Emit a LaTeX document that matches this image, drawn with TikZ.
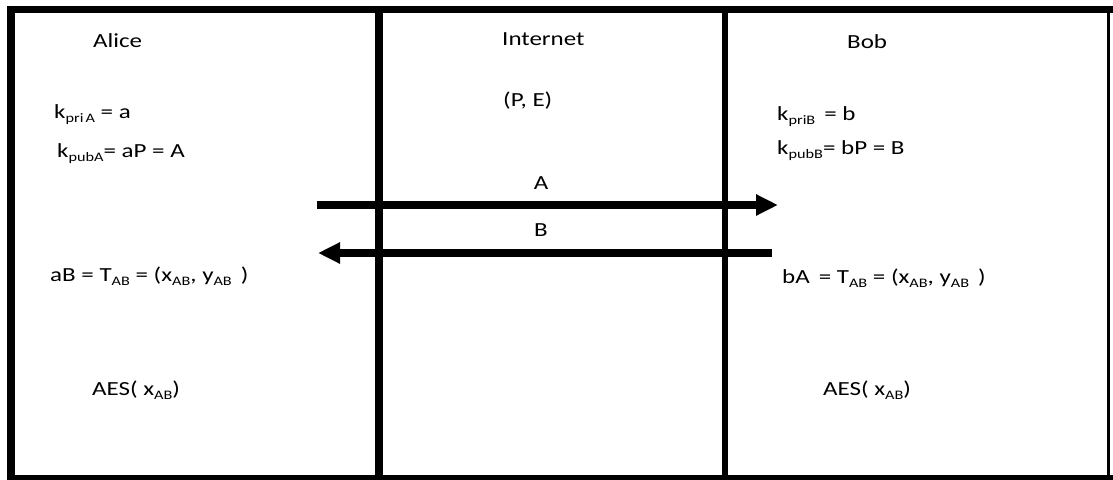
\documentclass[tikz,border=0pt]{standalone}
\usepackage{fontspec}
\setmainfont{Carlito}[FakeStretch=1.25]
\usetikzlibrary{arrows.meta}

% lowered, smaller text for key and point indices
\newcommand{\idx}[1]{\raisebox{-4.5pt}{\fontsize{13}{13}\selectfont #1}}

\tikzset{
  lbl/.style={anchor=base west, inner sep=0pt, font=\fontsize{20}{24}\selectfont},
  msg/.style={anchor=center, inner sep=0pt, font=\fontsize{20}{24}\selectfont},
  wire/.style={line width=8.5pt, -{Triangle[width=20pt,length=22pt]}},
}

\begin{document}
\begin{tikzpicture}[x=1pt,y=-1pt]
\useasboundingbox (0,0) rectangle (1113,479);

% outer frame
\draw[line width=7pt] (7,9.5) -- (1113,9.5);
\draw[line width=8pt] (11,6) -- (11,481);
\draw[line width=3pt] (1108,6) -- (1108,476);
\draw[line width=5pt] (7,477.5) -- (1113,477.5);

% panel dividers
\coordinate (d1top) at (379,6);
\coordinate (d1bot) at (379,481);
\coordinate (d2top) at (725,6);
\coordinate (d2bot) at (725,481);
\draw[line width=8pt] (d1top) -- (d1bot);
\draw[line width=6.5pt] (d2top) -- (d2bot);

% headings
\node[lbl] (alice) at (93,47) {Alice};
\node[lbl] (inet) at (502,45) {Internet};
\node[lbl] (bob) at (847,48) {Bob};

% Alice side
\node[lbl] (kpriA) at (54,118) {k\idx{pri\,A} = a};
\node[lbl] (kpubA) at (57,157) {k\idx{pubA}= aP = A};
\node[lbl] (tA) at (50,281) {aB = T\idx{AB} = (x\idx{AB}, y\idx{AB} \,)};
\node[lbl] (aesA) at (92,395) {AES( x\idx{AB})};

% public channel
\node[lbl] (curve) at (503,106) {(P, E)};

% Bob side
\node[lbl] (kpriB) at (777,120) {k\idx{priB} \,= b};
\node[lbl] (kpubB) at (777,154) {k\idx{pubB}= bP = B};
\node[lbl] (tB) at (782,283) {bA \,= T\idx{AB} = (x\idx{AB}, y\idx{AB} \,)};
\node[lbl] (aesB) at (823,395) {AES( x\idx{AB})};

% exchanged public keys
\coordinate (aFrom) at (317,205);
\coordinate (aTo) at (778,205);
\coordinate (bFrom) at (772,253);
\coordinate (bTo) at (318,253);
\draw[wire] (aFrom) -- (aTo);
\draw[wire] (bFrom) -- (bTo);
\node[msg] (lblA) at (541,183) {A};
\node[msg] (lblB) at (541,230) {B};
\end{tikzpicture}
\end{document}
